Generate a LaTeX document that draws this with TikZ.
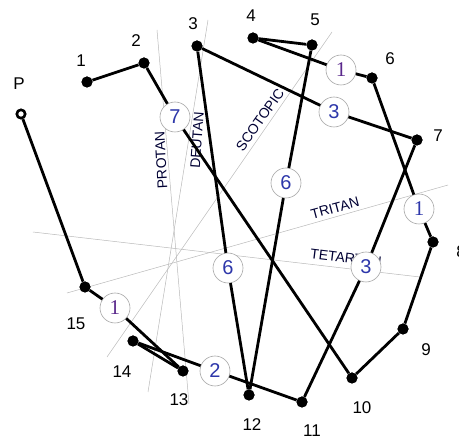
\documentclass[tikz,border=0pt]{standalone}
\usepackage{fontspec}
\setmainfont{Liberation Sans}
\newfontfamily\serifnum{Liberation Serif}
\definecolor{numblue}{RGB}{45,55,170}
\definecolor{numpurple}{RGB}{90,40,140}
\begin{document}
\begin{tikzpicture}[x=1pt,y=-1pt,
  capdot/.style={circle,fill=black,inner sep=0pt,minimum size=11pt},
  capline/.style={line width=2.8pt,black},
  axis/.style={gray!55,line width=0.5pt},
  axislabel/.style={font=\fontsize{14}{14}\selectfont,text=black!80!blue,inner sep=0pt},
  caplabel/.style={font=\fontsize{17}{17}\selectfont,inner sep=0pt},
  errc/.style={circle,draw=gray!70,line width=0.6pt,fill=white,minimum size=30pt,inner sep=0pt,
    font=\fontsize{20}{20}\selectfont,text=numblue},
  errs/.style={errc,font=\serifnum\fontsize{21}{21}\selectfont},
]
\useasboundingbox (0,0) rectangle (459,441);
% confusion axes
\coordinate (pa) at (157,30);  \coordinate (pb) at (189,404);
\coordinate (da) at (208,20);  \coordinate (db) at (148,392);
\coordinate (sa) at (332,32);  \coordinate (sb) at (107,357);
\coordinate (ta) at (448,185); \coordinate (tb) at (67,293);
\coordinate (ea) at (33,232);  \coordinate (eb) at (420,277);
\draw[axis] (pa) -- (pb);
\draw[axis] (da) -- (db);
\draw[axis] (sa) -- (sb);
\draw[axis] (ta) -- (tb);
\draw[axis] (ea) -- (eb);
\node[axislabel,rotate=93] (lprotan) at (161,160) {PROTAN};
\node[axislabel,rotate=86] (ldeutan) at (197,140) {DEUTAN};
\node[axislabel,rotate=55] (lscot) at (260,120) {SCOTOPIC};
\node[axislabel,rotate=15] (ltritan) at (335,208) {TRITAN};
\node[axislabel,rotate=-7] (ltetar) at (346,258) {TETARTAN};
% caps
\node[circle,draw=black,line width=2pt,fill=white,inner sep=0pt,minimum size=9pt] (P) at (21,114) {};
\node[capdot] (c1) at (87,82) {};
\node[capdot] (c2) at (144,63) {};
\node[capdot] (c3) at (197,46) {};
\node[capdot] (c4) at (253,38) {};
\node[capdot] (c5) at (312,45) {};
\node[capdot] (c6) at (372,78) {};
\node[capdot] (c7) at (417,140) {};
\node[capdot] (c8) at (433,242) {};
\node[capdot] (c9) at (403,329) {};
\node[capdot] (c10) at (352,378) {};
\node[capdot] (c11) at (302,402) {};
\node[capdot] (c12) at (249,395) {};
\node[capdot] (c13) at (183,371) {};
\node[capdot] (c14) at (133,341) {};
\node[capdot] (c15) at (85,287) {};
% error circles
\node[errs,text=numpurple] (e1) at (115,308) {1};
\node[errc] (e2) at (215,371) {2};
\node[errc] (e3) at (366,267) {3};
\node[errc] (e4) at (334,112) {3};
\node[errc] (e5) at (228,268) {6};
\node[errc] (e6) at (286,183) {6};
\node[errs,text=numpurple] (e7) at (341,70) {1};
\node[errs] (e8) at (419,209) {1};
\node[errc] (e9) at (175,117) {7};
% connectors
\draw[capline] (P) -- (c15);
\draw[capline] (c15) -- (e1) -- (c13);
\draw[capline] (c13) -- (c14);
\draw[capline] (c14) -- (e2) -- (c11);
\draw[capline] (c11) -- (e3) -- (c7);
\draw[capline] (c7) -- (e4) -- (c3);
\draw[capline] (c3) -- (e5) -- (c12);
\draw[capline] (c12) -- (e6) -- (c5);
\draw[capline] (c5) -- (c4);
\draw[capline] (c4) -- (e7) -- (c6);
\draw[capline] (c6) -- (e8) -- (c8);
\draw[capline] (c8) -- (c9);
\draw[capline] (c9) -- (c10);
\draw[capline] (c10) -- (e9) -- (c2);
\draw[capline] (c2) -- (c1);
% redraw caps on top
\foreach \n in {c1,c2,c3,c4,c5,c6,c7,c8,c9,c10,c11,c12,c13,c14,c15}
  \fill[black] (\n) circle (5.5pt);
\draw[black,line width=2.2pt,fill=white] (P) circle (4pt);
% cap labels
\node[caplabel] (lP) at (19,84) {P};
\node[caplabel] (l1) at (81,61) {1};
\node[caplabel] (l2) at (136,41) {2};
\node[caplabel] (l3) at (193,24) {3};
\node[caplabel] (l4) at (251,16) {4};
\node[caplabel] (l5) at (315,20) {5};
\node[caplabel] (l6) at (390,59) {6};
\node[caplabel] (l7) at (438,136) {7};
\node[caplabel] (l8) at (461,252) {8};
\node[caplabel] (l9) at (426,350) {9};
\node[caplabel] (l10) at (362,408) {10};
\node[caplabel] (l11) at (312,431) {11};
\node[caplabel] (l12) at (252,425) {12};
\node[caplabel] (l13) at (179,400) {13};
\node[caplabel] (l14) at (122,372) {14};
\node[caplabel] (l15) at (76,324) {15};
\end{tikzpicture}
\end{document}
